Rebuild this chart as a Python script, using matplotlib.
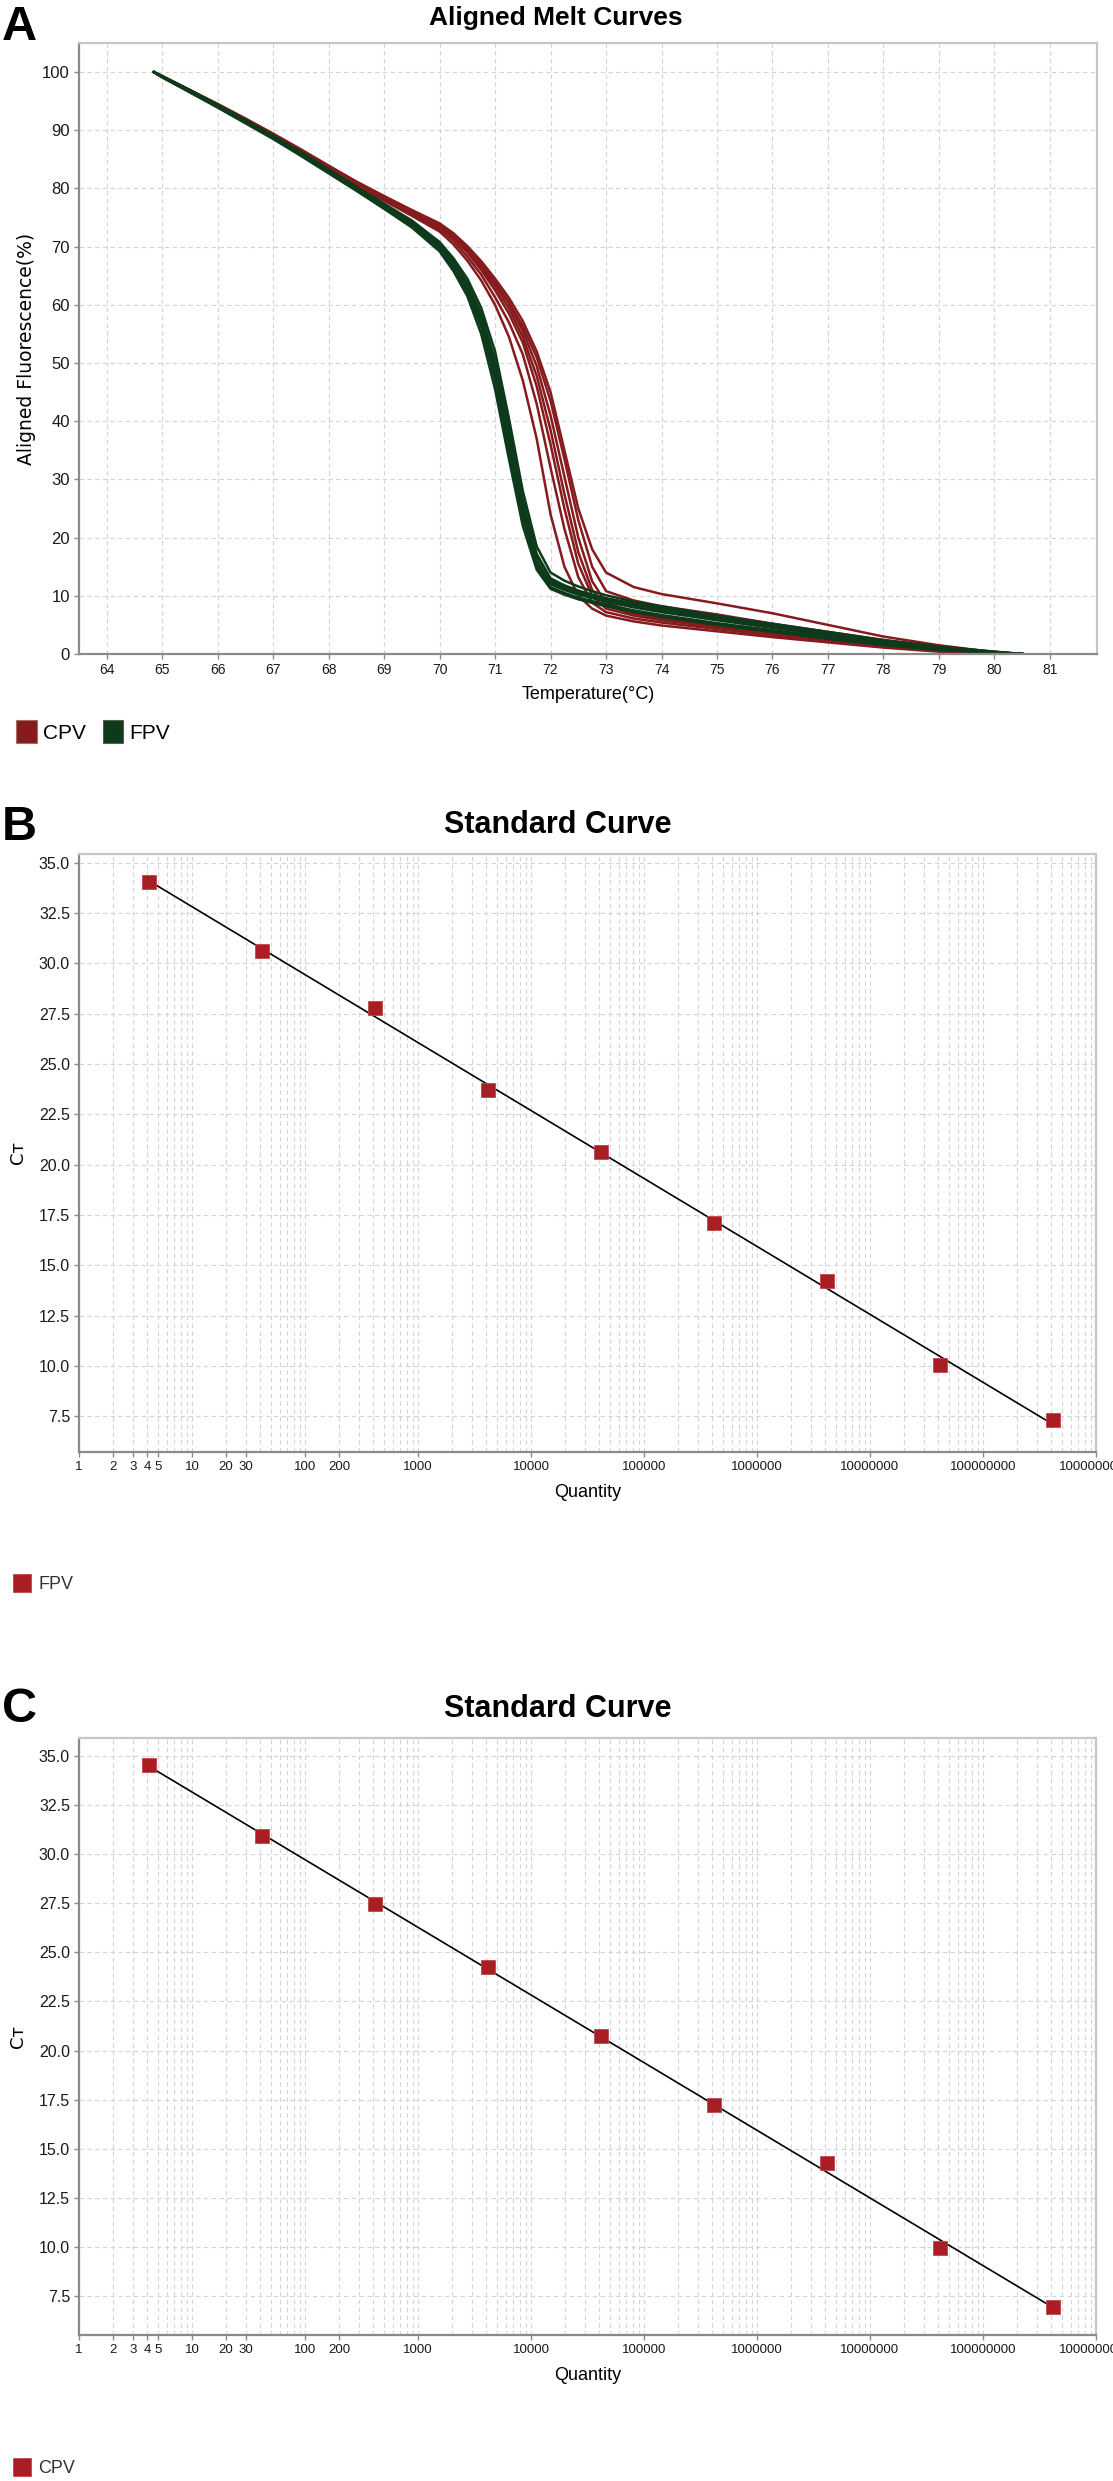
import numpy as np
import matplotlib
matplotlib.use("Agg")
from matplotlib import pyplot as plt
from matplotlib import font_manager
from matplotlib.patches import Patch


# ---- panel A: aligned melt curves (temperature in C, fluorescence in %)
temp = [64.85, 65.0, 65.5, 66.0, 66.5, 67.0, 67.5, 68.0, 68.5, 69.0, 69.5,
        70.0, 70.25, 70.5, 70.75, 71.0, 71.25, 71.5, 71.75, 72.0, 72.25,
        72.5, 72.75, 73.0, 73.5, 74.0, 75.0, 76.0, 77.0, 78.0, 79.0, 80.0, 80.5]

cpv_curves = [
    [100, 99.2, 96.8, 94.3, 91.8, 89.2, 86.4, 83.6, 80.8, 78.3, 75.8, 73.4, 71.5, 69.0, 66.0, 62.5, 58.5,
     53.5, 46.0, 36.0, 25.0, 15.5, 10.0, 7.8, 6.6, 5.8, 4.6, 3.4, 2.4, 1.4, 0.6, 0.05, 0.0],
    [100, 99.1, 96.6, 94.1, 91.5, 88.9, 86.1, 83.3, 80.5, 77.9, 75.3, 72.6, 70.4, 67.6, 64.2, 60.0, 54.5,
     47.0, 37.0, 24.0, 15.0, 10.0, 7.8, 6.6, 5.6, 4.9, 3.9, 2.9, 2.0, 1.1, 0.4, 0.0, 0.0],
    [100, 99.3, 96.9, 94.5, 92.0, 89.4, 86.7, 83.9, 81.1, 78.6, 76.2, 73.9, 72.1, 69.8, 67.0, 63.8, 60.2,
     55.5, 49.5, 41.0, 30.5, 20.0, 12.5, 8.8, 7.2, 6.3, 5.0, 3.8, 2.7, 1.6, 0.7, 0.1, 0.0],
    [100, 99.2, 96.7, 94.2, 91.6, 89.0, 86.2, 83.4, 80.6, 78.0, 75.5, 73.0, 71.0, 68.3, 65.2, 61.3, 57.0,
     51.5, 43.0, 32.0, 21.5, 13.2, 8.8, 7.2, 6.1, 5.4, 4.3, 3.2, 2.2, 1.3, 0.5, 0.0, 0.0],
    [100, 99.2, 96.8, 94.4, 91.9, 89.3, 86.5, 83.7, 80.9, 78.4, 76.0, 73.7, 71.8, 69.4, 66.5, 63.2, 59.4,
     54.5, 47.8, 38.5, 27.5, 17.5, 11.0, 8.3, 6.9, 6.0, 4.8, 3.6, 2.5, 1.5, 0.6, 0.05, 0.0],
    [100, 99.3, 96.9, 94.4, 91.9, 89.3, 86.6, 83.8, 81.0, 78.5, 76.1, 73.8, 72.0, 69.7, 67.0, 63.9, 60.5,
     56.3, 51.0, 43.5, 33.5, 23.0, 15.0, 10.8, 9.2, 8.2, 6.8, 5.2, 3.8, 2.4, 1.2, 0.2, 0.0],
    [100, 99.3, 96.9, 94.5, 92.0, 89.4, 86.7, 83.9, 81.2, 78.7, 76.3, 74.0, 72.3, 70.1, 67.5, 64.5, 61.2,
     57.2, 52.0, 45.0, 35.0, 25.0, 18.0, 14.0, 11.5, 10.3, 8.7, 7.0, 5.0, 3.0, 1.5, 0.3, 0.0],
]

fpv_curves = [
    [100, 99.2, 96.7, 94.2, 91.6, 88.9, 86.0, 83.0, 80.0, 77.0, 74.0, 70.0, 67.0, 63.0, 57.5, 49.0, 37.0,
     25.0, 16.0, 12.0, 11.0, 10.2, 9.6, 9.0, 8.0, 7.2, 5.8, 4.5, 3.2, 2.0, 1.0, 0.3, 0.0],
    [100, 99.1, 96.5, 93.9, 91.2, 88.5, 85.6, 82.6, 79.6, 76.5, 73.3, 69.2, 65.8, 61.5, 55.0, 45.5, 33.5,
     22.0, 14.5, 11.2, 10.2, 9.4, 8.8, 8.2, 7.2, 6.4, 5.0, 3.8, 2.6, 1.5, 0.7, 0.2, 0.0],
    [100, 99.3, 96.9, 94.4, 91.8, 89.1, 86.3, 83.3, 80.3, 77.4, 74.5, 70.8, 68.0, 64.5, 59.5, 52.0, 40.5,
     28.0, 18.5, 14.0, 12.6, 11.6, 10.8, 10.1, 9.0, 8.2, 6.6, 5.2, 3.8, 2.4, 1.3, 0.4, 0.0],
    [100, 99.2, 96.6, 94.0, 91.4, 88.7, 85.8, 82.8, 79.8, 76.8, 73.7, 69.6, 66.4, 62.2, 56.2, 47.0, 35.0,
     23.5, 15.0, 11.5, 10.5, 9.7, 9.1, 8.5, 7.5, 6.7, 5.3, 4.1, 2.9, 1.7, 0.8, 0.2, 0.0],
    [100, 99.2, 96.8, 94.3, 91.7, 89.0, 86.1, 83.1, 80.2, 77.2, 74.2, 70.4, 67.5, 63.8, 58.5, 50.5, 39.0,
     26.5, 17.2, 13.0, 11.8, 10.9, 10.2, 9.6, 8.6, 7.8, 6.2, 4.8, 3.5, 2.2, 1.1, 0.3, 0.0],
    [100, 99.3, 96.8, 94.2, 91.6, 88.8, 85.9, 82.9, 79.9, 76.9, 73.9, 69.8, 66.7, 62.6, 56.8, 48.0, 36.0,
     24.0, 15.5, 12.3, 11.3, 10.5, 9.9, 9.3, 8.3, 7.5, 6.0, 4.6, 3.3, 2.0, 1.0, 0.3, 0.0],
    [100, 99.2, 96.7, 94.1, 91.5, 88.8, 85.9, 82.9, 80.0, 77.1, 74.1, 70.2, 67.2, 63.3, 58.0, 49.8, 38.0,
     26.0, 16.8, 12.7, 11.5, 10.6, 10.0, 9.5, 8.7, 8.0, 6.4, 5.0, 3.6, 2.3, 1.2, 0.4, 0.0],
]

# ---- panels B and C: standard curves
quantity = [4.15, 41.5, 415, 4150, 41500, 415000, 4150000, 41500000, 415000000]
ct_fpv = [34.06, 30.63, 27.76, 23.70, 20.61, 17.08, 14.22, 10.03, 7.30]
ct_cpv = [34.54, 30.94, 27.46, 24.27, 20.74, 17.23, 14.26, 9.93, 6.93]

qty_ticks = [1, 2, 3, 4, 5, 10, 20, 30, 100, 200, 1e3, 1e4, 1e5, 1e6, 1e7, 1e8, 1e9]
qty_labels = ["1", "2", "3", "4", "5", "10", "20", "30", "100", "200", "1000", "10000",
              "100000", "1000000", "10000000", "100000000", "1000000000"]
ct_ticks = [7.5, 10.0, 12.5, 15.0, 17.5, 20.0, 22.5, 25.0, 27.5, 30.0, 32.5, 35.0]

CPV_RED = "#861b1d"
FPV_GREEN = "#0d3a1b"
MARK_RED = "#a81e23"
GRID = "#d4d4d4"

installed = {f.name for f in font_manager.fontManager.ttflist}
NARROW = "Liberation Sans Narrow" if "Liberation Sans Narrow" in installed else "Liberation Sans"

plt.rcParams["font.family"] = ["Liberation Sans", "DejaVu Sans"]

W, H = 1113, 2481
fig = plt.figure(figsize=(W / 100, H / 100), dpi=100)


def px_axes(left, top, right, bottom):
    return fig.add_axes([left / W, 1 - bottom / H, (right - left) / W, (bottom - top) / H])


def style_frame(ax):
    for s in ("left", "bottom"):
        ax.spines[s].set_color("#8a8a8a")
        ax.spines[s].set_linewidth(1.6)
    for s in ("top", "right"):
        ax.spines[s].set_color("#c6c6c6")
        ax.spines[s].set_linewidth(1.6)
    ax.tick_params(which="major", length=3.5, width=1, color="#8a8a8a", colors="#1a1a1a")
    ax.set_axisbelow(True)


# ---------------- A
axA = px_axes(79, 43, 1097, 654)
for c in cpv_curves:
    axA.plot(temp, c, color=CPV_RED, lw=1.8, solid_joinstyle="round")
for c in fpv_curves:
    axA.plot(temp, c, color=FPV_GREEN, lw=1.8, solid_joinstyle="round")
axA.set_xlim(63.5, 81.85)
axA.set_ylim(0, 105)
axA.set_xticks(range(64, 82))
axA.set_yticks(range(0, 101, 10))
axA.grid(True, ls=(0, (4, 3)), color=GRID, lw=0.8)
style_frame(axA)
axA.tick_params(axis="x", pad=3, labelsize=10)
axA.tick_params(axis="y", pad=3, labelsize=12)
for lab in axA.get_xticklabels() + axA.get_yticklabels():
    lab.set_fontfamily([NARROW, "DejaVu Sans"])
axA.set_xlabel("Temperature(°C)", fontsize=13, family=[NARROW, "DejaVu Sans"])
axA.xaxis.set_label_coords(0.5, -0.053)
axA.set_ylabel("Aligned Fluorescence(%)", fontsize=13.5, family="DejaVu Sans")
axA.yaxis.set_label_coords(-0.042, 0.5)

fig.text(556 / W, 1 - 25 / H, "Aligned Melt Curves", ha="center", va="baseline",
         fontsize=19, weight="bold", family=[NARROW, "Liberation Sans"])
fig.text(2 / W, 1 - 40 / H, "A", fontsize=35, weight="bold", va="baseline")

fig.legend([Patch(fc=CPV_RED, ec="#a4705e", lw=0.8), Patch(fc=FPV_GREEN, ec="#52604a", lw=0.8)],
           ["CPV", "FPV"], loc="upper left", bbox_to_anchor=(16 / W, 1 - 720 / H),
           ncol=2, frameon=False, prop={"family": [NARROW, "DejaVu Sans"], "size": 15},
           handlelength=1.0, handleheight=1.35, handletextpad=0.3, columnspacing=0.8,
           borderpad=0, borderaxespad=0)


# ---------------- B and C
def std_curve(top, bottom, ct, ylim, title, letter, title_base, letter_base, name, leg_top):
    ax = px_axes(79, top, 1096, bottom)
    ax.set_xscale("log")
    lq = np.log10(quantity)
    slope, icpt = np.polyfit(lq, ct, 1)
    ends = np.array([quantity[0], quantity[-1]])
    ax.plot(ends, slope * np.log10(ends) + icpt, color="black", lw=1.2, zorder=3)
    ax.plot(quantity, ct, "s", ms=10.5, mfc=MARK_RED, mec="#c0474b", mew=0.6, zorder=4)
    ax.set_xlim(1, 1e9)
    ax.set_ylim(*ylim)
    ax.set_xticks(qty_ticks)
    ax.set_xticklabels(qty_labels)
    minor = [k * 10 ** n for n in range(9) for k in range(1, 10) if k * 10 ** n not in qty_ticks]
    ax.set_xticks(minor, minor=True)
    ax.tick_params(axis="x", which="minor", length=0)
    ax.set_yticks(ct_ticks)
    ax.set_yticklabels([f"{v:.1f}" for v in ct_ticks])
    ax.grid(True, which="both", ls=(0, (4, 3)), color=GRID, lw=0.8)
    style_frame(ax)
    ax.tick_params(axis="x", pad=3, labelsize=9.5)
    ax.tick_params(axis="y", pad=3, labelsize=11.5)
    for lab in ax.get_xticklabels():
        lab.set_clip_on(False)
    ax.set_xlabel("Quantity", fontsize=13)
    ax.xaxis.set_label_coords(0.5, -0.054)
    ax.set_ylabel("Cᴛ", fontsize=13, family=["DejaVu Sans"])
    ax.yaxis.set_label_coords(-0.051, 0.5)

    fig.text(558 / W, 1 - title_base / H, title, ha="center", va="baseline",
             fontsize=22, weight="bold")
    fig.text(2 / W, 1 - letter_base / H, letter, fontsize=35, weight="bold", va="baseline")
    fig.legend([Patch(fc=MARK_RED, ec="#c0474b", lw=0.6)], [name], loc="upper left",
               bbox_to_anchor=(13 / W, 1 - leg_top / H), frameon=False, fontsize=13,
               labelcolor="#333333", handlelength=1.0, handleheight=1.17,
               handletextpad=0.4, borderpad=0, borderaxespad=0)
    return ax


std_curve(854, 1452, ct_fpv, (5.72, 35.43), "Standard Curve", "B", 833, 840, "FPV", 1574)
std_curve(1738, 2335, ct_cpv, (5.5, 35.93), "Standard Curve", "C", 1717, 1722, "CPV", 2458)

fig.savefig("out.png", dpi=100)
